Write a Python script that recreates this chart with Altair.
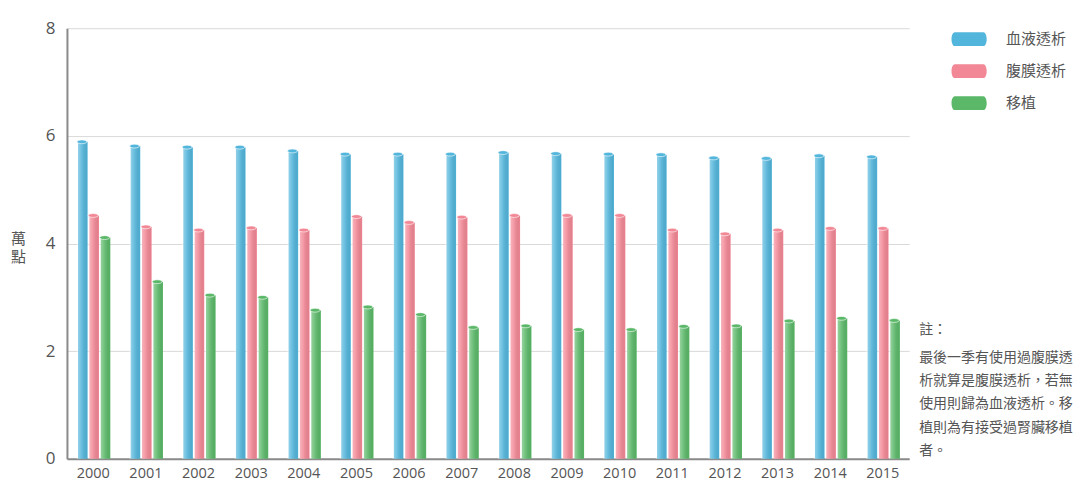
import altair as alt
import pandas as pd

years = ["2000", "2001", "2002", "2003", "2004", "2005", "2006", "2007",
         "2008", "2009", "2010", "2011", "2012", "2013", "2014", "2015"]
series = ["血液透析", "腹膜透析", "移植"]
hemodialysis = [5.89, 5.81, 5.79, 5.79, 5.72, 5.66, 5.66, 5.66,
                5.69, 5.67, 5.66, 5.65, 5.59, 5.58, 5.63, 5.61]
peritoneal = [4.52, 4.31, 4.25, 4.29, 4.25, 4.50, 4.39, 4.49,
              4.52, 4.52, 4.52, 4.25, 4.18, 4.25, 4.28, 4.28]
transplant = [4.11, 3.29, 3.04, 3.00, 2.76, 2.82, 2.68, 2.44,
              2.47, 2.40, 2.40, 2.46, 2.47, 2.56, 2.61, 2.57]
colors = ["#52b5db", "#f28795", "#5ab868"]
y_ticks = [0, 2, 4, 6, 8]
note_title = "註："
note_lines = ["最後一季有使用過腹膜透", "析就算是腹膜透析，若無",
              "使用則歸為血液透析。移", "植則為有接受過腎臟移植", "者。"]

rows = []
for name, vals in zip(series, [hemodialysis, peritoneal, transplant]):
    for yr, v in zip(years, vals):
        rows.append({"year": yr, "series": name, "value": v})
df = pd.DataFrame(rows)

FONT = "Noto Sans CJK TC"
GRAY = "#555555"

x_enc = alt.X("year:N", sort=years,
              scale=alt.Scale(paddingInner=0.37, paddingOuter=0.185),
              axis=alt.Axis(title=None, labelAngle=0, ticks=False, domain=True,
                            domainColor="#8a8a8a", domainWidth=2,
                            labelFont="Open Sans", labelFontSize=14.5,
                            labelColor=GRAY, labelPadding=8, labelBaseline="top"))
xo_enc = alt.XOffset("series:N", sort=series,
                     scale=alt.Scale(domain=series, paddingInner=0.08))
y_enc = alt.Y("value:Q", stack=None,
              scale=alt.Scale(domain=[0, 8], nice=False),
              axis=alt.Axis(values=y_ticks, title=["萬", "點"], titleAngle=0,
                            titleX=-49, titleY=203, titleAlign="center",
                            titleBaseline="top", titleFont=FONT,
                            titleFontSize=15, titleFontWeight="normal",
                            titleColor=GRAY, titleLineHeight=19,
                            ticks=False, domainColor="#8a8a8a", domainWidth=2,
                            gridColor="#d9d9d9", gridWidth=1,
                            labelFont="Open Sans", labelFontSize=17,
                            labelColor=GRAY, labelPadding=12))
color_enc = alt.Color("series:N", sort=series,
                      scale=alt.Scale(domain=series, range=colors),
                      legend=alt.Legend(
                          title=None, orient="none", legendX=892, legendY=0,
                          symbolType="M-1.6,-0.63 L1.3,-0.63 A0.3,0.63 0 0 1 1.3,0.63 "
                                     "L-1.3,0.63 A0.3,0.63 0 0 1 -1.3,-0.63 Z",
                          symbolSize=484, symbolStrokeWidth=0, symbolOpacity=1,
                          labelFont=FONT, labelFontSize=15, labelColor=GRAY,
                          labelOffset=26, rowPadding=13))

base = alt.Chart(df)

bars = base.mark_bar(width={"band": 0.92}).encode(
    x=x_enc, xOffset=xo_enc, y=y_enc, color=color_enc)

shine = base.mark_bar(
    color=alt.Gradient(
        gradient="linear", x1=0, x2=1, y1=0, y2=0,
        stops=[alt.GradientStop(offset=0, color="rgba(255,255,255,0.45)"),
               alt.GradientStop(offset=0.45, color="rgba(255,255,255,0.15)"),
               alt.GradientStop(offset=1, color="rgba(0,0,0,0.06)")])
).encode(x=x_enc, xOffset=xo_enc, y=y_enc)

caps = base.mark_point(
    filled=True, opacity=1, size=100, stroke="white", strokeWidth=0.6,
    shape="M-1,0 A1,0.38 0 1 0 1,0 A1,0.38 0 1 0 -1,0 Z"
).encode(x=x_enc, xOffset=xo_enc, y=y_enc, color=color_enc)

one = pd.DataFrame({"k": [0]})
note_head = alt.Chart(one).mark_text(
    align="left", baseline="middle", font=FONT, fontSize=14, color=GRAY
).encode(x=alt.value(853), y=alt.value(302), text=alt.value(note_title))
note_body = alt.Chart(one).mark_text(
    align="left", baseline="middle", font=FONT, fontSize=14, color=GRAY,
    lineHeight=23.3
).encode(x=alt.value(853), y=alt.value(330), text=alt.value(note_lines))

chart = alt.layer(bars, shine, caps, note_head, note_body).properties(
    width=843, height=431,
    autosize=alt.AutoSizeParams(type="none"),
    padding={"left": 59, "top": 20, "right": 168, "bottom": 26},
    background="white",
).configure_view(stroke=None)

chart.save("out.html", embed_options={"renderer": "svg", "actions": False})
